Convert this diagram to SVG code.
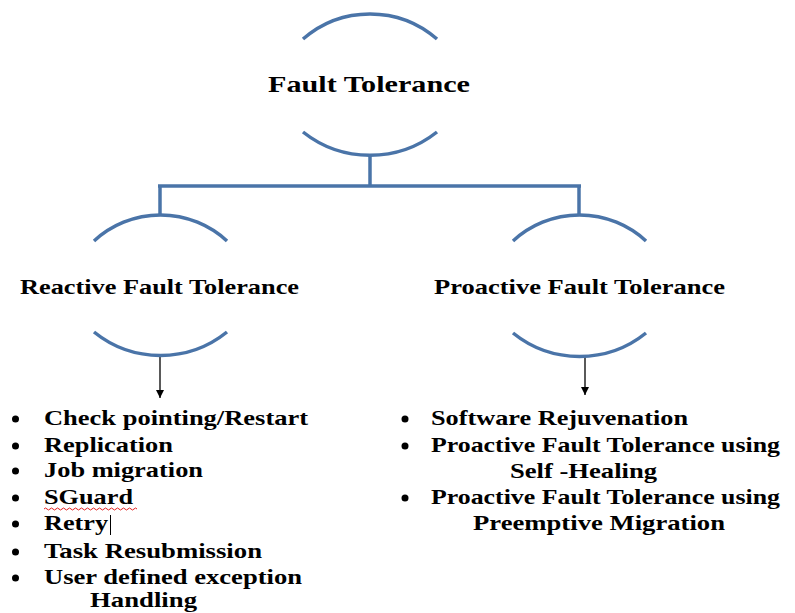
<svg xmlns="http://www.w3.org/2000/svg" width="795" height="613" viewBox="0 0 795 613">
  <style>
    .arc { fill: none; stroke: #4a74a8; stroke-width: 3.5; stroke-linecap: butt; }
    .link { fill: none; stroke: #4a74a8; stroke-width: 3.5; }
    .arrow { stroke: #000; stroke-width: 1.3; fill: none; }
    .t { font-family: "Liberation Serif", "Times New Roman", "DejaVu Serif", serif; font-weight: 700; fill: #000; }
    .head { font-size: 22.5px; }
    .item { font-size: 22px; }
    .dot { fill: #000; }
  </style>
  <defs>
    <marker id="tip" viewBox="0 0 10 10" refX="10" refY="5" markerWidth="8" markerHeight="9" markerUnits="userSpaceOnUse" orient="auto">
      <path d="M0,0 L10,5 L0,10 Z" fill="#000"/>
    </marker>
  </defs>
  <rect width="795" height="613" fill="#fff"/>

  <!-- tree links -->
  <g id="connectors">
    <path class="link" d="M370,154 V186"/>
    <path class="link" d="M158,186 H581"/>
    <path class="link" d="M160,186 V216"/>
    <path class="link" d="M579,186 V216"/>
    <path class="arrow" d="M160,356 V398" marker-end="url(#tip)"/>
    <path class="arrow" d="M585,357 V395" marker-end="url(#tip)"/>
  </g>

  <!-- root -->
  <g id="fault-tolerance">
    <path class="arc" d="M303,39 A102,102 0 0 1 437,39"/>
    <path class="arc" d="M303,132 A108,108 0 0 0 437,132"/>
    <text class="t head" x="268" y="92" textLength="202" lengthAdjust="spacingAndGlyphs">Fault Tolerance</text>
  </g>

  <!-- left branch -->
  <g id="reactive">
    <path class="arc" d="M94,241 A98,98 0 0 1 227,241"/>
    <path class="arc" d="M94,332 A106,106 0 0 0 227,332"/>
    <text class="t item" x="20" y="294" textLength="279" lengthAdjust="spacingAndGlyphs">Reactive Fault Tolerance</text>
  </g>

  <!-- right branch -->
  <g id="proactive">
    <path class="arc" d="M513,241 A98,98 0 0 1 646,241"/>
    <path class="arc" d="M513,333 A106,106 0 0 0 646,333"/>
    <text class="t item" x="434" y="294" textLength="291" lengthAdjust="spacingAndGlyphs">Proactive Fault Tolerance</text>
  </g>

  <!-- reactive techniques -->
  <g id="reactive-list">
    <circle class="dot" cx="15.5" cy="419" r="3.5"/>
    <text class="t item" x="44" y="425" textLength="264" lengthAdjust="spacingAndGlyphs">Check pointing/Restart</text>
    <circle class="dot" cx="15.5" cy="446" r="3.5"/>
    <text class="t item" x="44" y="452" textLength="129" lengthAdjust="spacingAndGlyphs">Replication</text>
    <circle class="dot" cx="15.5" cy="471" r="3.5"/>
    <text class="t item" x="44" y="477" textLength="159" lengthAdjust="spacingAndGlyphs">Job migration</text>
    <circle class="dot" cx="15.5" cy="498" r="3.5"/>
    <text class="t item" x="44" y="504" textLength="89" lengthAdjust="spacingAndGlyphs">SGuard</text>
    <path d="M44,509 q1.5,-2 3,0 t3,0 t3,0 t3,0 t3,0 t3,0 t3,0 t3,0 t3,0 t3,0 t3,0 t3,0 t3,0 t3,0 t3,0 t3,0 t3,0 t3,0 t3,0 t3,0 t3,0 t3,0 t3,0 t3,0 t3,0 t3,0 t3,0 t3,0 t3,0 t3,0 t3,0" fill="none" stroke="#e02020" stroke-width="1"/>
    <circle class="dot" cx="15.5" cy="524" r="3.5"/>
    <text class="t item" x="44" y="530" textLength="64" lengthAdjust="spacingAndGlyphs">Retry</text>
    <path d="M110.5,515 V535" stroke="#000" stroke-width="1"/>
    <circle class="dot" cx="15.5" cy="552" r="3.5"/>
    <text class="t item" x="44" y="558" textLength="218" lengthAdjust="spacingAndGlyphs">Task Resubmission</text>
    <circle class="dot" cx="15.5" cy="578" r="3.5"/>
    <text class="t item" x="44" y="584" textLength="258" lengthAdjust="spacingAndGlyphs">User defined exception</text>
    <text class="t item" x="90" y="607" textLength="107" lengthAdjust="spacingAndGlyphs">Handling</text>
  </g>

  <!-- proactive techniques -->
  <g id="proactive-list">
    <circle class="dot" cx="405" cy="419" r="3.5"/>
    <text class="t item" x="431" y="425" textLength="257" lengthAdjust="spacingAndGlyphs">Software Rejuvenation</text>
    <circle class="dot" cx="405" cy="446" r="3.5"/>
    <text class="t item" x="431" y="452" textLength="349" lengthAdjust="spacingAndGlyphs">Proactive Fault Tolerance using</text>
    <text class="t item" x="510" y="478" textLength="147" lengthAdjust="spacingAndGlyphs">Self -Healing</text>
    <circle class="dot" cx="405" cy="498" r="3.5"/>
    <text class="t item" x="431" y="504" textLength="349" lengthAdjust="spacingAndGlyphs">Proactive Fault Tolerance using</text>
    <text class="t item" x="473" y="530" textLength="252" lengthAdjust="spacingAndGlyphs">Preemptive Migration</text>
  </g>
</svg>
